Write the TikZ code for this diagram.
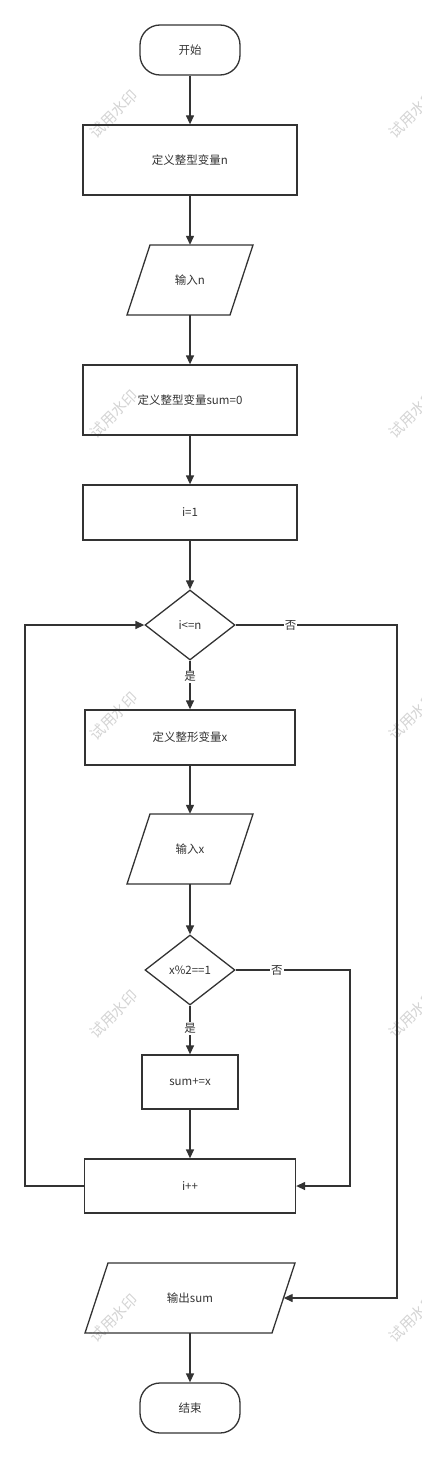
\documentclass[tikz,border=0pt]{standalone}
\usepackage{fontspec}
\newfontfamily\cjk{Noto Sans CJK SC}
\usetikzlibrary{arrows.meta,shapes.geometric,calc}
\definecolor{ln}{HTML}{333333}
\definecolor{wm}{HTML}{D4D4D4}
\begin{document}
\begin{tikzpicture}[x=1pt,y=-1pt,
  every node/.style={font=\cjk\fontsize{11.5}{13}\selectfont, text=ln},
  base/.style={draw=ln, line width=1.3pt, inner sep=0pt},
  term/.style={base, rectangle, rounded corners=20pt, minimum width=100pt, minimum height=50pt},
  proc/.style={base, rectangle, minimum width=214pt, minimum height=70pt},
  cond/.style={base, diamond, minimum width=90pt, minimum height=70pt},
  io/.style={rectangle, inner sep=0pt, minimum height=70pt},
  arr/.style={draw=ln, line width=1.3pt, -{Triangle[length=9pt,width=8pt]}},
  lbl/.style={fill=white, inner sep=1pt},
  wmark/.style={text=wm, font=\cjk\fontsize{15}{15}\selectfont, rotate=45}
]
\useasboundingbox (0,0) rectangle (422,1458);
% watermarks
\begin{scope}
\clip (0,0) rectangle (422,1458);
\foreach \yy in {114,414,716,1014,1318}{
  \node[wmark] (wl\yy) at (114,\yy) {试用水印};
  \node[wmark] (wr\yy) at (413,\yy) {试用水印};
}
\end{scope}
% nodes
\node[term] (start) at (190,50) {开始};
\node[proc] (b1) at (190,160) {定义整型变量n};
\node[io, minimum width=126pt] (in1) at (190,280) {输入n};
\draw[line width=1.3pt, draw=ln] ($(in1.center)+(-40,-35)$) -- ++(103,0) -- ++(-23,70) -- ++(-103,0) -- cycle;
\node[proc] (b2) at (190,400) {定义整型变量sum=0};
\node[proc, minimum height=55pt] (b3) at (190,512.5) {i=1};
\node[cond] (d1) at (190,625) {i<=n};
\node[proc, minimum width=210pt, minimum height=55pt] (b4) at (190,737.5) {定义整形变量x};
\node[io, minimum width=126pt] (in2) at (190,849) {输入x};
\draw[line width=1.3pt, draw=ln] ($(in2.center)+(-40,-35)$) -- ++(103,0) -- ++(-23,70) -- ++(-103,0) -- cycle;
\node[cond] (d2) at (190,970) {x\%2==1};
\node[proc, minimum width=96pt, minimum height=54pt] (b5) at (190,1082) {sum+=x};
\node[proc, minimum width=211pt, minimum height=54pt] (b6) at (190,1186) {i++};
\node[io, minimum width=187pt] (out) at (190,1298) {输出sum};
\draw[line width=1.3pt, draw=ln] ($(out.center)+(-82,-35)$) -- ++(187,0) -- ++(-23,70) -- ++(-187,0) -- cycle;
\node[term] (end) at (190,1408) {结束};
% bend points
\coordinate (c1) at (397,625);
\coordinate (c2) at (350,970);
\coordinate (c3) at (25,1186);
% connectors
\draw[arr] (start) -- (b1);
\draw[arr] (b1) -- (in1);
\draw[arr] (in1) -- (b2);
\draw[arr] (b2) -- (b3);
\draw[arr] (b3) -- (d1);
\draw[arr] (d1) -- node[lbl, pos=0.33] (y1) {是} (b4);
\draw[arr] (b4) -- (in2);
\draw[arr] (in2) -- (d2);
\draw[arr] (d2) -- node[lbl, pos=0.47] (y2) {是} (b5);
\draw[arr] (b5) -- (b6);
\draw[arr] (d2.east) -- node[lbl, pos=0.36] (n2) {否} (c2) |- (b6.east);
\draw[arr] (b6.west) -- (c3) |- (d1.west);
\draw[arr] (d1.east) -- node[lbl, pos=0.34] (n1) {否} (c1) |- (out.east);
\draw[arr] (out) -- (end);
\end{tikzpicture}
\end{document}
